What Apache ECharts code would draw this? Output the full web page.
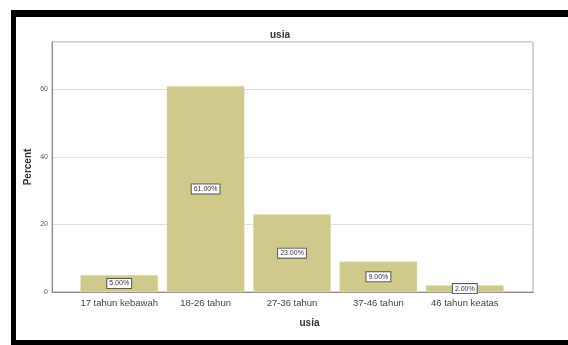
<!DOCTYPE html>
<html>
<head>
<meta charset="utf-8">
<script src="https://cdn.jsdelivr.net/npm/echarts@6/dist/echarts.min.js"></script>
<style>
  html, body { margin: 0; padding: 0; background: #ffffff; }
  #chart { width: 568px; height: 345px; }
</style>
</head>
<body>
<div id="chart"></div>
<script>
// Age groups of respondents (percent)
var categories = ['17 tahun kebawah', '18-26 tahun', '27-36 tahun', '37-46 tahun', '46 tahun keatas'];
var percentValues = [5, 61, 23, 9, 2];
var yTicks = [0, 20, 40, 60];

var FONT = '"Liberation Sans", Arial, sans-serif';
var Y_MAX = 74;

var chart = echarts.init(document.getElementById('chart'), null, { renderer: 'canvas' });

chart.setOption({
  backgroundColor: '#ffffff',
  animation: false,
  title: {
    text: 'usia',
    left: 275,
    top: 25,
    textAlign: 'center',
    textStyle: { fontFamily: FONT, fontSize: 10, fontWeight: 'bold', color: '#333333' }
  },
  graphic: [
    // heavy frame around the figure
    { type: 'rect', shape: { x: 11, y: 10, width: 557, height: 7 }, style: { fill: '#000000' } },
    { type: 'rect', shape: { x: 11, y: 10, width: 5, height: 335 }, style: { fill: '#000000' } },
    { type: 'rect', shape: { x: 11, y: 340, width: 557, height: 5 }, style: { fill: '#000000' } }
  ],
  grid: [
    // outer plot frame with value axis
    { left: 52, top: 42, width: 481, height: 250, show: true, borderColor: '#a6a6a6', borderWidth: 1, containLabel: false },
    // inner band where the bars sit
    { left: 76, top: 42, width: 432, height: 250, containLabel: false }
  ],
  xAxis: [
    {
      gridIndex: 0, type: 'category', data: categories, show: true,
      axisLine: { show: true, lineStyle: { color: '#8c8c8c', width: 1 } },
      axisTick: { show: false }, axisLabel: { show: false }, splitLine: { show: false },
      name: 'usia', nameLocation: 'middle', nameGap: 26, nameMoveOverlap: false,
      nameTextStyle: { fontFamily: FONT, fontSize: 10, fontWeight: 'bold', color: '#333333', padding: [0, 0, 0, 34] }
    },
    {
      gridIndex: 1, type: 'category', data: categories,
      axisLine: { show: false }, axisTick: { show: false },
      axisLabel: { fontFamily: FONT, fontSize: 9.5, color: '#444444', margin: 6, interval: 0 }
    }
  ],
  yAxis: [
    {
      gridIndex: 0, type: 'value', min: 0, max: Y_MAX, interval: 20,
      axisLine: { show: true, lineStyle: { color: '#8c8c8c', width: 1 } },
      axisTick: { show: false },
      axisLabel: {
        fontFamily: FONT, fontSize: 7, color: '#555555', margin: 4,
        formatter: function (v) { return yTicks.indexOf(v) >= 0 ? String(v) : ''; }
      },
      splitLine: { show: true, lineStyle: { color: '#dedede', width: 1 } },
      name: 'Percent', nameLocation: 'middle', nameGap: 19, nameRotate: 90, nameMoveOverlap: false,
      nameTextStyle: { fontFamily: FONT, fontSize: 10, fontWeight: 'bold', color: '#333333' }
    },
    {
      gridIndex: 1, type: 'value', min: 0, max: Y_MAX, show: false,
      splitLine: { show: false }
    }
  ],
  series: [
    {
      type: 'bar',
      xAxisIndex: 1,
      yAxisIndex: 1,
      data: percentValues,
      barCategoryGap: '10%',
      itemStyle: { color: '#d0c98c', borderColor: '#e6e1b8', borderWidth: 0.5 },
      label: {
        show: true,
        position: 'inside',
        formatter: function (p) { return p.value.toFixed(2) + '%'; },
        fontFamily: FONT, fontSize: 7, color: '#333333',
        backgroundColor: '#ffffff', borderColor: '#555555', borderWidth: 1,
        padding: [1, 2, 1, 2]
      }
    }
  ]
});
</script>
</body>
</html>
